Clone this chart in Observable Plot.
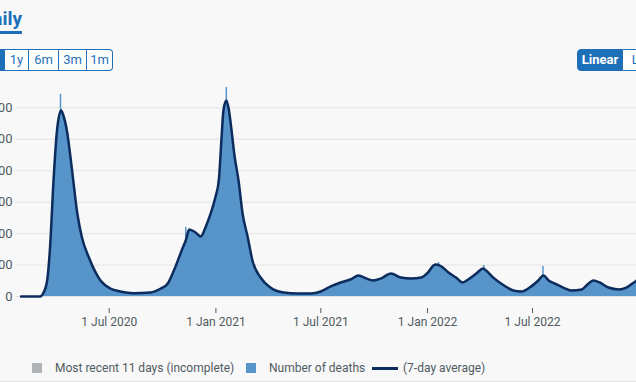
<!DOCTYPE html>
<html><head><meta charset="utf-8">
<script src="https://cdn.jsdelivr.net/npm/d3@7"></script>
<script src="https://cdn.jsdelivr.net/npm/@observablehq/plot@0.6"></script>
<style>
html,body{margin:0;padding:0}
body{width:636px;height:382px;overflow:hidden;background:#f8f8f8;font-family:Roboto,sans-serif;position:relative;box-sizing:border-box;border-bottom:1px solid #e4e4e4}
#title{position:absolute;right:614px;top:7px;font-size:19px;font-weight:700;color:#1d70b8;white-space:nowrap}
#tabline{position:absolute;left:-30px;width:52px;top:31px;height:3px;background:#1d70b8}
.grp{position:absolute;top:49px;height:22px;display:flex}
.grp span{box-sizing:border-box;height:22px;line-height:20px;text-align:center;font-size:13px;color:#1d70b8;border:1px solid #1d70b8;border-left:none;background:#fff}
.grp span.sel{background:#1d70b8;color:#fff;font-weight:700}
#ranges{left:-25px}
#ranges span:first-child{border-left:1px solid #1d70b8;border-radius:4px 0 0 4px}
#ranges span:last-child{border-radius:0 4px 4px 0}
#scale{left:577px}
#scale span:first-child{border-left:1px solid #1d70b8;border-radius:4px 0 0 4px}
#chart{position:absolute;left:-40px;top:80px;width:720px;height:260px}
#chart svg{max-width:none !important}
#legend{position:absolute;top:360px;left:0;height:16px;font-size:12px;color:#505a5f;white-space:nowrap}
#legend .it{position:absolute;top:0;line-height:16px}
#legend .sw{position:absolute;width:10px;height:10px;top:3px}
</style></head><body>
<div id="title">Daily</div>
<div id="tabline"></div>
<div class="grp" id="ranges"><span class="sel" style="width:30px">All</span><span style="width:24px">1y</span><span style="width:30px">6m</span><span style="width:28px">3m</span><span style="width:26px">1m</span></div>
<div class="grp" id="scale"><span class="sel" style="width:46px">Linear</span><span style="width:40px">Log</span></div>
<div id="chart"></div>
<div id="legend">
  <div class="sw" style="left:32px;background:#b1b4b6"></div><div class="it" style="left:55px">Most recent 11 days (incomplete)</div>
  <div class="sw" style="left:246px;background:#5694ca"></div><div class="it" style="left:269px">Number of deaths</div>
  <div class="sw" style="left:372px;width:26px;height:3px;top:7px;background:#0b2c5c"></div><div class="it" style="left:403px">(7-day average)</div>
</div>
<script>
// 7-day average of daily deaths
const dates = ["2020-01-31","2020-03-04","2020-03-09","2020-03-16","2020-03-21","2020-03-27","2020-04-02","2020-04-09","2020-04-13","2020-04-19","2020-04-28","2020-05-07","2020-05-15","2020-05-27","2020-06-16","2020-07-03","2020-07-20","2020-08-12","2020-09-10","2020-09-28","2020-10-10","2020-10-20","2020-11-05","2020-11-10","2020-11-16","2020-11-27","2020-12-06","2020-12-14","2020-12-23","2020-12-31","2021-01-06","2021-01-11","2021-01-14","2021-01-19","2021-01-23","2021-01-28","2021-02-02","2021-02-09","2021-02-16","2021-02-25","2021-03-05","2021-03-19","2021-04-05","2021-04-28","2021-05-22","2021-06-14","2021-07-01","2021-07-18","2021-08-04","2021-08-21","2021-09-04","2021-09-17","2021-09-29","2021-10-13","2021-10-30","2021-11-16","2021-12-04","2021-12-21","2022-01-02","2022-01-11","2022-01-16","2022-01-25","2022-02-06","2022-02-19","2022-03-03","2022-03-12","2022-03-26","2022-04-07","2022-04-12","2022-04-26","2022-05-13","2022-05-29","2022-06-12","2022-06-26","2022-07-11","2022-07-20","2022-07-29","2022-08-08","2022-08-23","2022-09-06","2022-09-24","2022-10-02","2022-10-14","2022-10-25","2022-11-09","2022-11-27","2022-12-10","2022-12-23","2022-12-30","2023-01-06"];
const avg7 = [0,0,19,102,312,738,1056,1183,1151,1056,801,528,375,248,102,51,32,21,25,51,83,160,312,356,426,407,382,439,528,630,738,1024,1183,1247,1196,1056,897,738,528,375,229,121,57,25,19,19,32,64,89,108,134,115,102,115,146,121,115,121,153,197,204,191,153,121,89,108,146,178,165,115,70,38,32,57,102,134,102,83,57,38,45,70,102,89,57,45,57,89,108,125];
// single-day peaks standing above the area
const spikeDates = ["2020-04-08","2020-11-10","2021-01-19","2022-01-20","2022-04-08","2022-07-19"];
const spikeValues = [1285,440,1329,216,197,191];
// axis ticks
const yTicks = [0,200,400,600,800,1000,1200];
const xTickDates = ["2020-07-01","2021-01-01","2021-07-01","2022-01-01","2022-07-01"];

const series = dates.map((d,i)=>({date:new Date(d), value:avg7[i]}));
const spikes = spikeDates.map((d,i)=>({date:new Date(d), value:spikeValues[i]}));

const chart = Plot.plot({
  width: 720, height: 260,
  marginLeft: 56, marginRight: 0, marginTop: 0, marginBottom: 32,
  style: {background:"transparent", fontFamily:"Roboto, sans-serif", fontSize:"12px", color:"#505a5f", overflow:"visible", maxWidth:"none"},
  x: {type:"utc", domain:[new Date("2020-07-01"), new Date("2022-07-01")], range:[148.7, 572]},
  y: {domain:[0,1200], range:[216, 27.3]},
  marks: [
    Plot.gridY(yTicks, {stroke:"#e3e3e3", strokeOpacity:1}),
    Plot.axisY(yTicks, {tickSize:0, tickPadding:4, tickFormat:d3.format(","), label:null, fontSize:13, fill:"#505a5f"}),
    Plot.ruleX(spikes, {x:"date", y1:0, y2:"value", stroke:"#5694ca", strokeWidth:1.5}),
    Plot.areaY(series, {x:"date", y:"value", fill:"#5694ca", curve:"monotone-x"}),
    Plot.lineY(series, {x:"date", y:"value", stroke:"#0b2c5c", strokeWidth:2.5, curve:"monotone-x"}),
    Plot.axisX(xTickDates.map(d=>new Date(d)), {tickSize:5, tickPadding:4, tickFormat:d3.utcFormat("%-d %b %Y"), label:null, stroke:"#505a5f", fill:"#505a5f"})
  ]
});
document.getElementById("chart").appendChild(chart);
</script>
</body></html>
